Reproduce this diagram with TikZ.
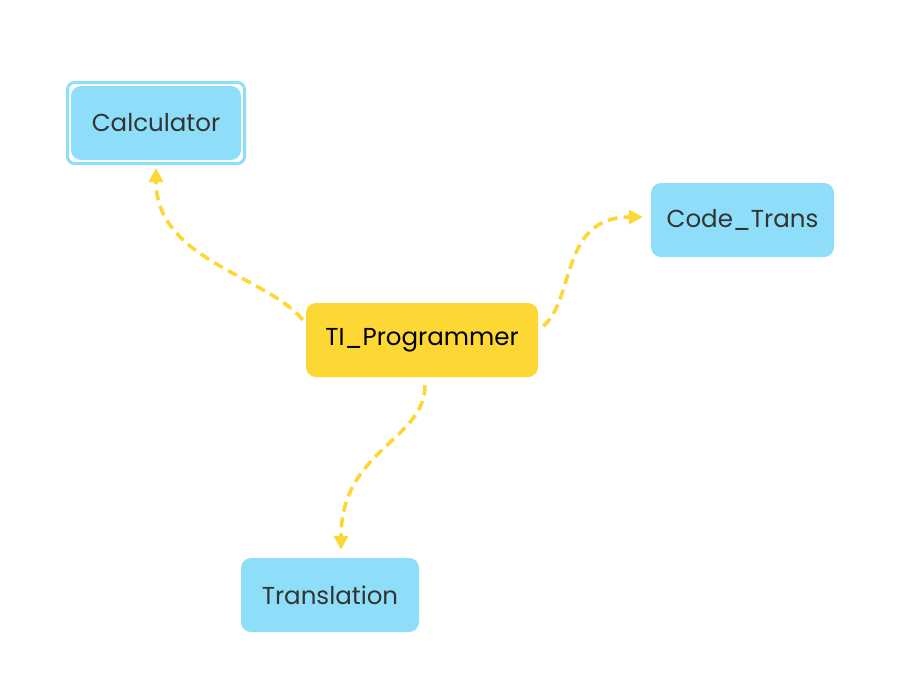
\documentclass[tikz,border=0pt]{standalone}
\usepackage{fontspec}
\setmainfont{Poppins}
\usetikzlibrary{arrows.meta,positioning,calc}
\definecolor{nblue}{HTML}{8FDEF9}
\definecolor{nyellow}{HTML}{FDD835}
\definecolor{ntext}{HTML}{333333}
\begin{document}
\begin{tikzpicture}[x=1pt,y=-1pt,
  box/.style={rectangle,rounded corners=10pt,minimum height=74pt,inner sep=0pt,font=\fontsize{24.5}{28}\selectfont,text=ntext},
  bluebox/.style={box,fill=nblue},
  yellowbox/.style={box,fill=nyellow,text=black},
  link/.style={draw=nyellow,line width=3.6pt,dash pattern=on 10pt off 6pt,-{Triangle[length=14pt,width=14pt]}}]
\useasboundingbox (0,0) rectangle (915,689);
\node[bluebox,minimum width=170pt] (calc) at (156,123) {Calculator};
\node[draw=nblue,line width=3pt,rounded corners=7pt,minimum width=177pt,minimum height=81pt,inner sep=0pt] (calcframe) at (156,123) {};
\node[bluebox,minimum width=183pt] (code) at (742.5,220) {Code\_Trans};
\node[yellowbox,minimum width=232pt] (ti) at (422,340) {TI\_Programmer};
\node[bluebox,minimum width=178pt] (trans) at (330,595) {Translation};
\draw[link] ([xshift=-3pt,yshift=-17pt]ti.north west) .. controls +(-38,-45) and +(0,92) .. ([yshift=-3pt]calcframe.south);
\draw[link] ([xshift=5pt,yshift=14pt]ti.east) .. controls +(32,-26) and +(-83,0) .. ([xshift=-8pt,yshift=3pt]code.west);
\draw[link] ([xshift=3pt,yshift=-8pt]ti.south) .. controls +(0,55) and +(0,-100) .. ([xshift=11pt,yshift=8pt]trans.north);
\end{tikzpicture}
\end{document}
